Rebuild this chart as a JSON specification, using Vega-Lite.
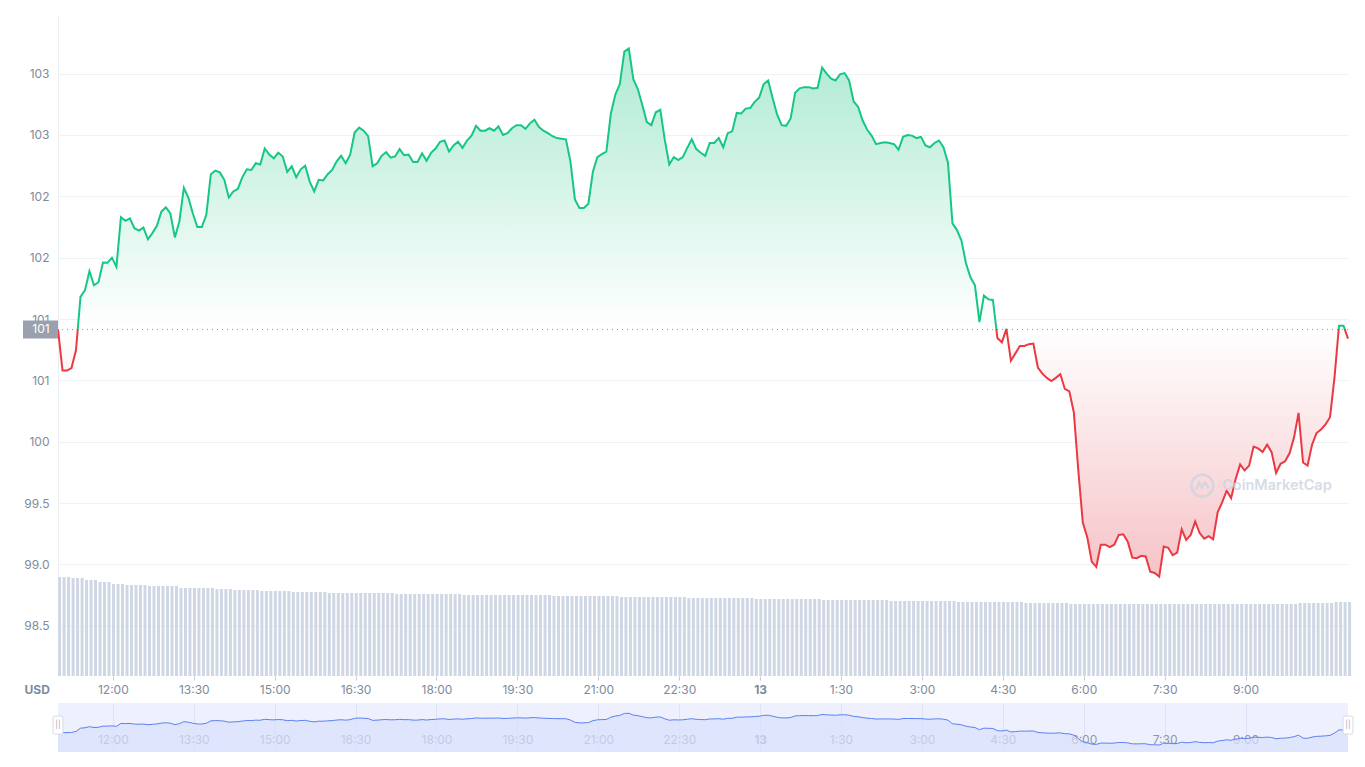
{
  "$schema": "https://vega.github.io/schema/vega-lite/v6.json",
  "background": "white",
  "padding": {"left": 23, "top": 16, "right": 5, "bottom": 5},
  "bounds": "flush",
  "spacing": 27,
  "config": {
    "font": "Inter",
    "view": {"stroke": null},
    "axis": {"labelFont": "Inter", "labelFontSize": 12, "labelColor": "#808a9d", "titleFont": "Inter"}
  },
  "data": {
    "format": {"parse": {"t": "date:'%d %H:%M'"}},
    "values": [
      {"t":"12 10:59","p":100.915,"v":495},
      {"t":"12 11:04","p":100.58,"v":495},{"t":"12 11:09","p":100.58,"v":495},{"t":"12 11:14","p":100.60,"v":490},{"t":"12 11:19","p":100.745,"v":490},
      {"t":"12 11:24","p":101.18,"v":490},{"t":"12 11:29","p":101.235,"v":480},{"t":"12 11:34","p":101.39,"v":480},{"t":"12 11:39","p":101.275,"v":480},
      {"t":"12 11:44","p":101.30,"v":470},{"t":"12 11:49","p":101.46,"v":470},{"t":"12 11:54","p":101.458,"v":470},{"t":"12 11:59","p":101.50,"v":460},
      {"t":"12 12:04","p":101.425,"v":460},{"t":"12 12:09","p":101.83,"v":460},{"t":"12 12:14","p":101.80,"v":455},{"t":"12 12:19","p":101.82,"v":455},
      {"t":"12 12:24","p":101.74,"v":455},{"t":"12 12:29","p":101.72,"v":455},{"t":"12 12:34","p":101.745,"v":455},{"t":"12 12:39","p":101.65,"v":450},
      {"t":"12 12:44","p":101.70,"v":450},{"t":"12 12:49","p":101.76,"v":450},{"t":"12 12:54","p":101.875,"v":450},{"t":"12 12:59","p":101.91,"v":450},
      {"t":"12 13:04","p":101.86,"v":450},{"t":"12 13:09","p":101.665,"v":450},{"t":"12 13:14","p":101.795,"v":440},{"t":"12 13:19","p":102.07,"v":440},
      {"t":"12 13:24","p":101.99,"v":440},{"t":"12 13:29","p":101.86,"v":440},{"t":"12 13:34","p":101.75,"v":440},{"t":"12 13:39","p":101.75,"v":440},
      {"t":"12 13:44","p":101.85,"v":440},{"t":"12 13:49","p":102.18,"v":440},{"t":"12 13:54","p":102.21,"v":435},{"t":"12 13:59","p":102.195,"v":435},
      {"t":"12 14:04","p":102.135,"v":435},{"t":"12 14:09","p":101.99,"v":435},{"t":"12 14:14","p":102.04,"v":430},{"t":"12 14:19","p":102.06,"v":430},
      {"t":"12 14:24","p":102.155,"v":430},{"t":"12 14:29","p":102.22,"v":430},{"t":"12 14:34","p":102.215,"v":430},{"t":"12 14:39","p":102.27,"v":430},
      {"t":"12 14:44","p":102.26,"v":425},{"t":"12 14:49","p":102.39,"v":425},{"t":"12 14:54","p":102.34,"v":425},{"t":"12 14:59","p":102.31,"v":425},
      {"t":"12 15:04","p":102.355,"v":425},{"t":"12 15:09","p":102.325,"v":425},{"t":"12 15:14","p":102.20,"v":425},{"t":"12 15:19","p":102.245,"v":420},
      {"t":"12 15:24","p":102.155,"v":420},{"t":"12 15:29","p":102.22,"v":420},{"t":"12 15:34","p":102.25,"v":420},{"t":"12 15:39","p":102.12,"v":420},
      {"t":"12 15:44","p":102.04,"v":420},{"t":"12 15:49","p":102.135,"v":420},{"t":"12 15:54","p":102.13,"v":420},{"t":"12 15:59","p":102.18,"v":415},
      {"t":"12 16:04","p":102.215,"v":415},{"t":"12 16:09","p":102.285,"v":415},{"t":"12 16:14","p":102.33,"v":415},{"t":"12 16:19","p":102.27,"v":415},
      {"t":"12 16:24","p":102.34,"v":415},{"t":"12 16:29","p":102.52,"v":415},{"t":"12 16:34","p":102.56,"v":415},{"t":"12 16:39","p":102.535,"v":415},
      {"t":"12 16:44","p":102.49,"v":415},{"t":"12 16:49","p":102.245,"v":415},{"t":"12 16:54","p":102.27,"v":415},{"t":"12 16:59","p":102.33,"v":415},
      {"t":"12 17:04","p":102.36,"v":415},{"t":"12 17:09","p":102.315,"v":415},{"t":"12 17:14","p":102.325,"v":410},{"t":"12 17:19","p":102.385,"v":410},
      {"t":"12 17:24","p":102.335,"v":410},{"t":"12 17:29","p":102.34,"v":410},{"t":"12 17:34","p":102.28,"v":410},{"t":"12 17:39","p":102.28,"v":410},
      {"t":"12 17:44","p":102.35,"v":410},{"t":"12 17:49","p":102.29,"v":410},{"t":"12 17:54","p":102.355,"v":410},{"t":"12 17:59","p":102.39,"v":410},
      {"t":"12 18:04","p":102.445,"v":410},{"t":"12 18:09","p":102.455,"v":410},{"t":"12 18:14","p":102.365,"v":410},{"t":"12 18:19","p":102.415,"v":410},
      {"t":"12 18:24","p":102.445,"v":410},{"t":"12 18:29","p":102.395,"v":405},{"t":"12 18:34","p":102.455,"v":405},{"t":"12 18:39","p":102.495,"v":405},
      {"t":"12 18:44","p":102.575,"v":405},{"t":"12 18:49","p":102.535,"v":405},{"t":"12 18:54","p":102.535,"v":405},{"t":"12 18:59","p":102.555,"v":405},
      {"t":"12 19:04","p":102.535,"v":405},{"t":"12 19:09","p":102.57,"v":405},{"t":"12 19:14","p":102.50,"v":405},{"t":"12 19:19","p":102.515,"v":405},
      {"t":"12 19:24","p":102.555,"v":405},{"t":"12 19:29","p":102.58,"v":405},{"t":"12 19:34","p":102.58,"v":405},{"t":"12 19:39","p":102.55,"v":405},
      {"t":"12 19:44","p":102.595,"v":405},{"t":"12 19:49","p":102.625,"v":405},{"t":"12 19:54","p":102.565,"v":405},{"t":"12 19:59","p":102.535,"v":405},
      {"t":"12 20:04","p":102.515,"v":405},{"t":"12 20:09","p":102.49,"v":400},{"t":"12 20:14","p":102.475,"v":400},{"t":"12 20:19","p":102.47,"v":400},
      {"t":"12 20:24","p":102.465,"v":400},{"t":"12 20:29","p":102.285,"v":400},{"t":"12 20:34","p":101.975,"v":400},{"t":"12 20:39","p":101.905,"v":400},
      {"t":"12 20:44","p":101.905,"v":400},{"t":"12 20:49","p":101.94,"v":400},{"t":"12 20:54","p":102.20,"v":400},{"t":"12 20:59","p":102.32,"v":400},
      {"t":"12 21:04","p":102.345,"v":400},{"t":"12 21:09","p":102.365,"v":400},{"t":"12 21:14","p":102.675,"v":400},{"t":"12 21:19","p":102.83,"v":400},
      {"t":"12 21:24","p":102.915,"v":395},{"t":"12 21:29","p":103.18,"v":395},{"t":"12 21:34","p":103.205,"v":395},{"t":"12 21:39","p":102.955,"v":395},
      {"t":"12 21:44","p":102.875,"v":395},{"t":"12 21:49","p":102.745,"v":395},{"t":"12 21:54","p":102.605,"v":395},{"t":"12 21:59","p":102.58,"v":395},
      {"t":"12 22:04","p":102.685,"v":395},{"t":"12 22:09","p":102.705,"v":395},{"t":"12 22:14","p":102.46,"v":395},{"t":"12 22:19","p":102.26,"v":395},
      {"t":"12 22:24","p":102.32,"v":395},{"t":"12 22:29","p":102.295,"v":395},{"t":"12 22:34","p":102.32,"v":395},{"t":"12 22:39","p":102.395,"v":390},
      {"t":"12 22:44","p":102.465,"v":390},{"t":"12 22:49","p":102.385,"v":390},{"t":"12 22:54","p":102.355,"v":390},{"t":"12 22:59","p":102.33,"v":390},
      {"t":"12 23:04","p":102.435,"v":390},{"t":"12 23:09","p":102.435,"v":390},{"t":"12 23:14","p":102.475,"v":390},{"t":"12 23:19","p":102.40,"v":390},
      {"t":"12 23:24","p":102.515,"v":390},{"t":"12 23:29","p":102.53,"v":390},{"t":"12 23:34","p":102.68,"v":390},{"t":"12 23:39","p":102.675,"v":390},
      {"t":"12 23:44","p":102.715,"v":390},{"t":"12 23:49","p":102.72,"v":390},{"t":"12 23:54","p":102.77,"v":385},{"t":"12 23:59","p":102.805,"v":385},
      {"t":"13 00:04","p":102.915,"v":385},{"t":"13 00:09","p":102.945,"v":385},{"t":"13 00:14","p":102.80,"v":385},{"t":"13 00:19","p":102.665,"v":385},
      {"t":"13 00:24","p":102.58,"v":385},{"t":"13 00:29","p":102.575,"v":385},{"t":"13 00:34","p":102.635,"v":385},{"t":"13 00:39","p":102.845,"v":385},
      {"t":"13 00:44","p":102.88,"v":385},{"t":"13 00:49","p":102.89,"v":385},{"t":"13 00:54","p":102.89,"v":385},{"t":"13 00:59","p":102.88,"v":385},
      {"t":"13 01:04","p":102.885,"v":385},{"t":"13 01:09","p":103.05,"v":380},{"t":"13 01:14","p":103.00,"v":380},{"t":"13 01:19","p":102.96,"v":380},
      {"t":"13 01:24","p":102.945,"v":380},{"t":"13 01:29","p":102.995,"v":380},{"t":"13 01:34","p":103.005,"v":380},{"t":"13 01:39","p":102.945,"v":380},
      {"t":"13 01:44","p":102.775,"v":380},{"t":"13 01:49","p":102.73,"v":380},{"t":"13 01:54","p":102.62,"v":380},{"t":"13 01:59","p":102.545,"v":380},
      {"t":"13 02:04","p":102.495,"v":380},{"t":"13 02:09","p":102.425,"v":380},{"t":"13 02:14","p":102.435,"v":380},{"t":"13 02:19","p":102.44,"v":380},
      {"t":"13 02:24","p":102.435,"v":375},{"t":"13 02:29","p":102.425,"v":375},{"t":"13 02:34","p":102.38,"v":375},{"t":"13 02:39","p":102.485,"v":375},
      {"t":"13 02:44","p":102.50,"v":375},{"t":"13 02:49","p":102.495,"v":375},{"t":"13 02:54","p":102.475,"v":375},{"t":"13 02:59","p":102.485,"v":375},
      {"t":"13 03:04","p":102.415,"v":375},{"t":"13 03:09","p":102.40,"v":375},{"t":"13 03:14","p":102.435,"v":375},{"t":"13 03:19","p":102.455,"v":375},
      {"t":"13 03:24","p":102.40,"v":375},{"t":"13 03:29","p":102.275,"v":375},{"t":"13 03:34","p":101.78,"v":375},{"t":"13 03:39","p":101.725,"v":370},
      {"t":"13 03:44","p":101.64,"v":370},{"t":"13 03:49","p":101.455,"v":370},{"t":"13 03:54","p":101.34,"v":370},{"t":"13 03:59","p":101.275,"v":370},
      {"t":"13 04:04","p":100.975,"v":370},{"t":"13 04:09","p":101.19,"v":370},{"t":"13 04:14","p":101.16,"v":370},{"t":"13 04:19","p":101.155,"v":370},
      {"t":"13 04:24","p":100.845,"v":370},{"t":"13 04:29","p":100.81,"v":370},{"t":"13 04:34","p":100.92,"v":370},{"t":"13 04:39","p":100.66,"v":370},
      {"t":"13 04:44","p":100.72,"v":370},{"t":"13 04:49","p":100.78,"v":370},{"t":"13 04:54","p":100.78,"v":365},{"t":"13 04:59","p":100.795,"v":365},
      {"t":"13 05:04","p":100.80,"v":365},{"t":"13 05:09","p":100.605,"v":365},{"t":"13 05:14","p":100.555,"v":365},{"t":"13 05:19","p":100.52,"v":365},
      {"t":"13 05:24","p":100.495,"v":365},{"t":"13 05:29","p":100.52,"v":365},{"t":"13 05:34","p":100.55,"v":365},{"t":"13 05:39","p":100.43,"v":365},
      {"t":"13 05:44","p":100.41,"v":360},{"t":"13 05:49","p":100.24,"v":360},{"t":"13 05:54","p":99.765,"v":360},{"t":"13 05:59","p":99.34,"v":360},
      {"t":"13 06:04","p":99.22,"v":360},{"t":"13 06:09","p":99.02,"v":360},{"t":"13 06:14","p":98.98,"v":360},{"t":"13 06:19","p":99.16,"v":360},
      {"t":"13 06:24","p":99.16,"v":360},{"t":"13 06:29","p":99.14,"v":360},{"t":"13 06:34","p":99.16,"v":360},{"t":"13 06:39","p":99.24,"v":360},
      {"t":"13 06:44","p":99.245,"v":360},{"t":"13 06:49","p":99.185,"v":360},{"t":"13 06:54","p":99.055,"v":360},{"t":"13 06:59","p":99.05,"v":360},
      {"t":"13 07:04","p":99.07,"v":360},{"t":"13 07:09","p":99.065,"v":360},{"t":"13 07:14","p":98.94,"v":360},{"t":"13 07:19","p":98.93,"v":360},
      {"t":"13 07:24","p":98.90,"v":360},{"t":"13 07:29","p":99.145,"v":360},{"t":"13 07:34","p":99.135,"v":360},{"t":"13 07:39","p":99.075,"v":360},
      {"t":"13 07:44","p":99.095,"v":360},{"t":"13 07:49","p":99.285,"v":360},{"t":"13 07:54","p":99.20,"v":360},{"t":"13 07:59","p":99.24,"v":360},
      {"t":"13 08:04","p":99.35,"v":360},{"t":"13 08:09","p":99.255,"v":360},{"t":"13 08:14","p":99.21,"v":360},{"t":"13 08:19","p":99.23,"v":360},
      {"t":"13 08:24","p":99.205,"v":360},{"t":"13 08:29","p":99.425,"v":360},{"t":"13 08:34","p":99.505,"v":360},{"t":"13 08:39","p":99.60,"v":360},
      {"t":"13 08:44","p":99.54,"v":360},{"t":"13 08:49","p":99.695,"v":360},{"t":"13 08:54","p":99.815,"v":360},{"t":"13 08:59","p":99.765,"v":360},
      {"t":"13 09:04","p":99.805,"v":360},{"t":"13 09:09","p":99.96,"v":360},{"t":"13 09:14","p":99.945,"v":360},{"t":"13 09:19","p":99.915,"v":360},
      {"t":"13 09:24","p":99.975,"v":360},{"t":"13 09:29","p":99.915,"v":360},{"t":"13 09:34","p":99.745,"v":360},{"t":"13 09:39","p":99.82,"v":360},
      {"t":"13 09:44","p":99.84,"v":360},{"t":"13 09:49","p":99.905,"v":360},{"t":"13 09:54","p":100.035,"v":360},{"t":"13 09:59","p":100.235,"v":365},
      {"t":"13 10:04","p":99.83,"v":365},{"t":"13 10:09","p":99.805,"v":365},{"t":"13 10:14","p":99.975,"v":365},{"t":"13 10:19","p":100.07,"v":365},
      {"t":"13 10:24","p":100.10,"v":365},{"t":"13 10:29","p":100.14,"v":365},{"t":"13 10:34","p":100.20,"v":365},{"t":"13 10:39","p":100.525,"v":370},
      {"t":"13 10:44","p":100.945,"v":370},{"t":"13 10:49","p":100.945,"v":370},{"t":"13 10:54","p":100.84,"v":370}
    ]
  },
  "vconcat": [
    {
      "width": 1290,
      "height": 660,
      "layer": [
        {
          "mark": {"type": "bar", "size": 3, "color": "#cfd6e4", "xOffset": 1.6},
          "encoding": {
            "x": {
              "field": "t",
              "type": "temporal",
              "title": "USD",
              "scale": {"padding": 0, "nice": false},
              "axis": {
                "values": [
                  {"year": 1900, "month": 1, "date": 12, "hours": 12, "minutes": 0},
                  {"year": 1900, "month": 1, "date": 12, "hours": 13, "minutes": 30},
                  {"year": 1900, "month": 1, "date": 12, "hours": 15, "minutes": 0},
                  {"year": 1900, "month": 1, "date": 12, "hours": 16, "minutes": 30},
                  {"year": 1900, "month": 1, "date": 12, "hours": 18, "minutes": 0},
                  {"year": 1900, "month": 1, "date": 12, "hours": 19, "minutes": 30},
                  {"year": 1900, "month": 1, "date": 12, "hours": 21, "minutes": 0},
                  {"year": 1900, "month": 1, "date": 12, "hours": 22, "minutes": 30},
                  {"year": 1900, "month": 1, "date": 13, "hours": 0, "minutes": 0},
                  {"year": 1900, "month": 1, "date": 13, "hours": 1, "minutes": 30},
                  {"year": 1900, "month": 1, "date": 13, "hours": 3, "minutes": 0},
                  {"year": 1900, "month": 1, "date": 13, "hours": 4, "minutes": 30},
                  {"year": 1900, "month": 1, "date": 13, "hours": 6, "minutes": 0},
                  {"year": 1900, "month": 1, "date": 13, "hours": 7, "minutes": 30},
                  {"year": 1900, "month": 1, "date": 13, "hours": 9, "minutes": 0}
                ],
                "labelExpr": "hours(datum.value) == 0 && minutes(datum.value) == 0 ? timeFormat(datum.value, '%-d') : timeFormat(datum.value, '%-H:%M')",
                "labelFontWeight": {"condition": {"test": "hours(datum.value) == 0", "value": "bold"}, "value": "normal"},
                "labelOverlap": false,
                "labelFlush": false,
                "grid": false,
                "domain": false,
                "tickColor": "#c5ccd8",
                "tickSize": 4,
                "labelPadding": 4,
                "titleAnchor": "start",
                "titleAlign": "left",
                "titleBaseline": "top",
                "titleX": -34,
                "titleY": 8,
                "titleFontSize": 12,
                "titleFontWeight": "bold",
                "titleColor": "#808a9d"
              }
            },
            "y": {"field": "v", "type": "quantitative", "scale": {"domain": [0, 3300], "nice": false}, "axis": null}
          }
        },
        {
          "layer": [
            {
              "mark": {
                "type": "area",
                "color": {
                  "gradient": "linear", "x1": 0, "y1": 0, "x2": 0, "y2": 1,
                  "stops": [
                    {"offset": 0, "color": "#aeead3"},
                    {"offset": 0.532, "color": "#ffffff"},
                    {"offset": 0.532, "color": "#ffffff"},
                    {"offset": 1, "color": "#f6c3c7"}
                  ]
                }
              },
              "encoding": {
                "x": {"field": "t", "type": "temporal"},
                "y": {
                  "field": "p",
                  "type": "quantitative",
                  "scale": {"domain": [98.09, 103.47], "nice": false, "zero": false},
                  "axis": {
                    "values": [98.5, 99, 99.5, 100, 100.5, 101, 101.5, 102, 102.5, 103],
                    "labelExpr": "datum.value >= 100 ? format(datum.value, '.0f') : format(datum.value, '.1f')",
                    "title": null,
                    "grid": true,
                    "gridColor": "#eff2f5",
                    "ticks": false,
                    "domain": true,
                    "domainColor": "#eceff3",
                    "labelPadding": 9
                  }
                },
                "y2": {"datum": 100.915}
              }
            },
            {
              "data": {"values": [{}]},
              "mark": {"type": "rule", "strokeDash": [1, 4], "color": "#8d94a3", "strokeWidth": 1},
              "encoding": {"y": {"datum": 100.915}}
            },
            {
              "mark": {
                "type": "line",
                "strokeWidth": 2,
                "color": {
                  "gradient": "linear", "x1": 0, "y1": 0, "x2": 0, "y2": 1,
                  "stops": [
                    {"offset": 0, "color": "#16c784"},
                    {"offset": 0.532, "color": "#16c784"},
                    {"offset": 0.532, "color": "#ea3943"},
                    {"offset": 1, "color": "#ea3943"}
                  ]
                }
              },
              "encoding": {
                "x": {"field": "t", "type": "temporal"},
                "y": {"field": "p", "type": "quantitative"}
              }
            },
            {
              "data": {"values": [{}]},
              "mark": {"type": "point", "shape": "circle", "size": 480, "filled": false, "strokeWidth": 2.5, "color": "#cdd4e1", "opacity": 0.8},
              "encoding": {
                "x": {"datum": {"year": 1900, "month": 1, "date": 13, "hours": 8, "minutes": 12}, "type": "temporal"},
                "y": {"datum": 99.642}
              }
            },
            {
              "data": {"values": [{}]},
              "mark": {"type": "point", "shape": "M-0.6,0.35L-0.3,-0.3L-0.05,0.2L0.2,-0.3Q0.4,-0.2,0.55,0.25", "size": 480, "filled": false, "strokeWidth": 2.5, "color": "#cdd4e1", "opacity": 0.8},
              "encoding": {
                "x": {"datum": {"year": 1900, "month": 1, "date": 13, "hours": 8, "minutes": 12}, "type": "temporal"},
                "y": {"datum": 99.642}
              }
            },
            {
              "data": {"values": [{}]},
              "mark": {"type": "text", "text": "CoinMarketCap", "align": "left", "baseline": "middle", "fontSize": 14.5, "fontWeight": 600, "color": "#cdd4e1", "opacity": 0.8},
              "encoding": {
                "x": {"datum": {"year": 1900, "month": 1, "date": 13, "hours": 8, "minutes": 34}, "type": "temporal"},
                "y": {"datum": 99.642}
              }
            },
            {
              "data": {"values": [{}]},
              "mark": {"type": "point", "shape": "M-1.944,-0.5H0V0.5H-1.944Z", "size": 1296, "filled": true, "opacity": 1, "color": "#9aa0ad"},
              "encoding": {
                "x": {"datum": {"year": 1900, "month": 1, "date": 12, "hours": 10, "minutes": 59}, "type": "temporal"},
                "y": {"datum": 100.915}
              }
            },
            {
              "data": {"values": [{}]},
              "mark": {"type": "text", "text": "101", "align": "center", "baseline": "middle", "dx": -17, "fontSize": 12, "color": "white"},
              "encoding": {
                "x": {"datum": {"year": 1900, "month": 1, "date": 12, "hours": 10, "minutes": 59}, "type": "temporal"},
                "y": {"datum": 100.915}
              }
            }
          ]
        }
      ],
      "resolve": {"scale": {"y": "independent"}}
    },
    {
      "width": 1290,
      "height": 49,
      "view": {"fill": "#eef1fd", "stroke": null},
      "layer": [
        {
          "mark": {"type": "area", "color": "#d8e0fb", "line": {"color": "#5c80f2", "strokeWidth": 1}},
          "encoding": {
            "x": {
              "field": "t",
              "type": "temporal",
              "scale": {"padding": 0, "nice": false},
              "axis": {
                "values": [
                  {"year": 1900, "month": 1, "date": 12, "hours": 12, "minutes": 0},
                  {"year": 1900, "month": 1, "date": 12, "hours": 13, "minutes": 30},
                  {"year": 1900, "month": 1, "date": 12, "hours": 15, "minutes": 0},
                  {"year": 1900, "month": 1, "date": 12, "hours": 16, "minutes": 30},
                  {"year": 1900, "month": 1, "date": 12, "hours": 18, "minutes": 0},
                  {"year": 1900, "month": 1, "date": 12, "hours": 19, "minutes": 30},
                  {"year": 1900, "month": 1, "date": 12, "hours": 21, "minutes": 0},
                  {"year": 1900, "month": 1, "date": 12, "hours": 22, "minutes": 30},
                  {"year": 1900, "month": 1, "date": 13, "hours": 0, "minutes": 0},
                  {"year": 1900, "month": 1, "date": 13, "hours": 1, "minutes": 30},
                  {"year": 1900, "month": 1, "date": 13, "hours": 3, "minutes": 0},
                  {"year": 1900, "month": 1, "date": 13, "hours": 4, "minutes": 30},
                  {"year": 1900, "month": 1, "date": 13, "hours": 6, "minutes": 0},
                  {"year": 1900, "month": 1, "date": 13, "hours": 7, "minutes": 30},
                  {"year": 1900, "month": 1, "date": 13, "hours": 9, "minutes": 0}
                ],
                "labelExpr": "hours(datum.value) == 0 && minutes(datum.value) == 0 ? timeFormat(datum.value, '%-d') : timeFormat(datum.value, '%-H:%M')",
                "labelFontWeight": {"condition": {"test": "hours(datum.value) == 0", "value": "bold"}, "value": "normal"},
                "labelOverlap": false,
                "labelFlush": false,
                "labelColor": "#8f97a9",
                "grid": true,
                "gridColor": "#dde3f7",
                "domain": false,
                "ticks": false,
                "labelPadding": -18,
                "title": null
              }
            },
            "y": {"field": "p", "type": "quantitative", "scale": {"domain": [97.95, 104.6], "nice": false, "zero": false}, "axis": null},
            "y2": {"datum": 97.95}
          }
        },
        {
          "data": {"values": [{}]},
          "mark": {"type": "point", "shape": "M-0.55,-0.8Q-0.55,-1,-0.35,-1H0.35Q0.55,-1,0.55,-0.8V0.8Q0.55,1,0.35,1H-0.35Q-0.55,1,-0.55,0.8Z", "size": 324, "filled": true, "opacity": 1, "fill": "white", "stroke": "#d5dae6", "strokeWidth": 1},
          "encoding": {
            "x": {"datum": {"year": 1900, "month": 1, "date": 12, "hours": 10, "minutes": 59}, "type": "temporal"},
            "y": {"datum": 101.6}
          }
        },
        {
          "data": {"values": [{}]},
          "mark": {"type": "point", "shape": "M-0.55,-0.8Q-0.55,-1,-0.35,-1H0.35Q0.55,-1,0.55,-0.8V0.8Q0.55,1,0.35,1H-0.35Q-0.55,1,-0.55,0.8Z", "size": 324, "filled": true, "opacity": 1, "fill": "white", "stroke": "#d5dae6", "strokeWidth": 1},
          "encoding": {
            "x": {"datum": {"year": 1900, "month": 1, "date": 13, "hours": 10, "minutes": 54}, "type": "temporal"},
            "y": {"datum": 101.6}
          }
        },
        {
          "data": {"values": [{}]},
          "mark": {"type": "text", "text": "||", "align": "center", "baseline": "middle", "fontSize": 8, "color": "#a5abb8"},
          "encoding": {
            "x": {"datum": {"year": 1900, "month": 1, "date": 12, "hours": 10, "minutes": 59}, "type": "temporal"},
            "y": {"datum": 101.6}
          }
        },
        {
          "data": {"values": [{}]},
          "mark": {"type": "text", "text": "||", "align": "center", "baseline": "middle", "fontSize": 8, "color": "#a5abb8"},
          "encoding": {
            "x": {"datum": {"year": 1900, "month": 1, "date": 13, "hours": 10, "minutes": 54}, "type": "temporal"},
            "y": {"datum": 101.6}
          }
        }
      ]
    }
  ]
}
